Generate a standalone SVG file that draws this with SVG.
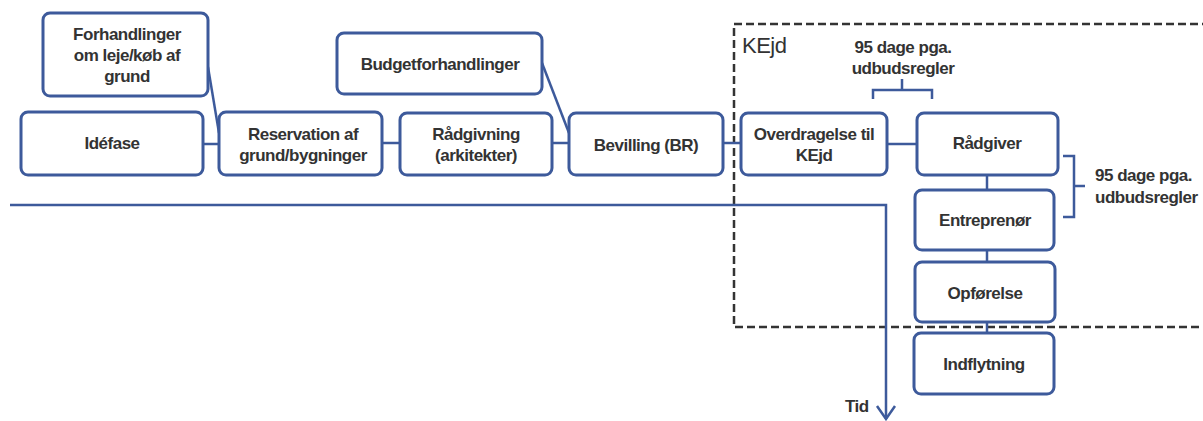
<svg xmlns="http://www.w3.org/2000/svg" width="1203" height="421" viewBox="0 0 1203 421">
<style>
.box{fill:#fff;stroke:#3d5a9b;stroke-width:3}
.con{stroke:#3d5a9b;stroke-width:2.5;fill:none}
.t{font-family:"Liberation Sans",Arial,sans-serif;font-weight:bold;font-size:17px;fill:#333;text-anchor:middle;letter-spacing:-0.5px}
.l{font-family:"Liberation Sans",Arial,sans-serif;font-weight:bold;font-size:17px;fill:#333;letter-spacing:-0.5px}
</style>
<rect width="1203" height="421" fill="#fff"/>
<g id="kejd">
<path d="M1210,24 H734 V327 H1210" fill="none" stroke="#333" stroke-width="2.5" stroke-dasharray="8,4"/>
<text x="742" y="53" font-family="Liberation Sans,Arial,sans-serif" font-size="22" fill="#333" letter-spacing="-0.5">KEjd</text>
</g>
<g id="connectors">
<line class="con" x1="203" y1="144" x2="219" y2="144" stroke-width="1.5"/>
<line class="con" x1="208" y1="67" x2="219" y2="133"/>
<line class="con" x1="382" y1="143" x2="400" y2="143"/>
<line class="con" x1="552" y1="143" x2="569" y2="143"/>
<line class="con" x1="542" y1="63" x2="569" y2="133"/>
<line class="con" x1="723" y1="143" x2="741" y2="143"/>
<line class="con" x1="887" y1="144" x2="917" y2="144"/>
<line class="con" x1="987" y1="175" x2="987" y2="190"/>
<line class="con" x1="987" y1="250" x2="987" y2="262"/>
<line class="con" x1="987" y1="322" x2="987" y2="333"/>
<path class="con" d="M873,99 V90 H932 V99 M902,90 V79"/>
<path class="con" d="M1063,156 H1074 V217 H1063 M1074,186 H1085"/>
<path class="con" d="M10,205 H886 V419" stroke-width="2"/>
<path class="con" d="M877,406 L886,419 L895,406" stroke-width="2"/>
</g>
<g id="forhandlinger"><rect class="box" x="43" y="13" width="165" height="83" rx="7"/><text class="t" x="127" y="40">Forhandlinger</text><text class="t" x="127" y="61">om leje/køb af</text><text class="t" x="127" y="82">grund</text></g>
<g id="idefase"><rect class="box" x="21" y="112" width="182" height="63" rx="7"/><text class="t" x="112" y="149">Idéfase</text></g>
<g id="reservation"><rect class="box" x="219" y="112" width="163" height="63" rx="7"/><text class="t" x="303" y="140">Reservation af</text><text class="t" x="303" y="161">grund/bygninger</text></g>
<g id="budget"><rect class="box" x="337" y="33" width="205" height="61" rx="7"/><text class="t" x="440" y="70">Budgetforhandlinger</text></g>
<g id="raadgivning"><rect class="box" x="400" y="113" width="152" height="62" rx="7"/><text class="t" x="476" y="140">Rådgivning</text><text class="t" x="476" y="161">(arkitekter)</text></g>
<g id="bevilling"><rect class="box" x="569" y="113" width="154" height="62" rx="7"/><text class="t" x="646" y="151">Bevilling (BR)</text></g>
<g id="overdragelse"><rect class="box" x="741" y="113" width="146" height="62" rx="7"/><text class="t" x="814" y="140">Overdragelse til</text><text class="t" x="814" y="161">KEjd</text></g>
<g id="raadgiver"><rect class="box" x="917" y="113" width="141" height="62" rx="7"/><text class="t" x="987" y="149">Rådgiver</text></g>
<g id="entreprenor"><rect class="box" x="915" y="190" width="139" height="60" rx="7"/><text class="t" x="985" y="226">Entreprenør</text></g>
<g id="opforelse"><rect class="box" x="915" y="262" width="140" height="60" rx="7"/><text class="t" x="985" y="299">Opførelse</text></g>
<g id="indflytning"><rect class="box" x="914" y="333" width="140" height="61" rx="7"/><text class="t" x="984" y="370">Indflytning</text></g>
<g id="labels">
<text class="t" x="903" y="53">95 dage pga.</text>
<text class="t" x="903" y="74">udbudsregler</text>
<text class="l" x="1095" y="181">95 dage pga.</text>
<text class="l" x="1095" y="203">udbudsregler</text>
<text class="l" x="845" y="412">Tid</text>
</g>
</svg>
